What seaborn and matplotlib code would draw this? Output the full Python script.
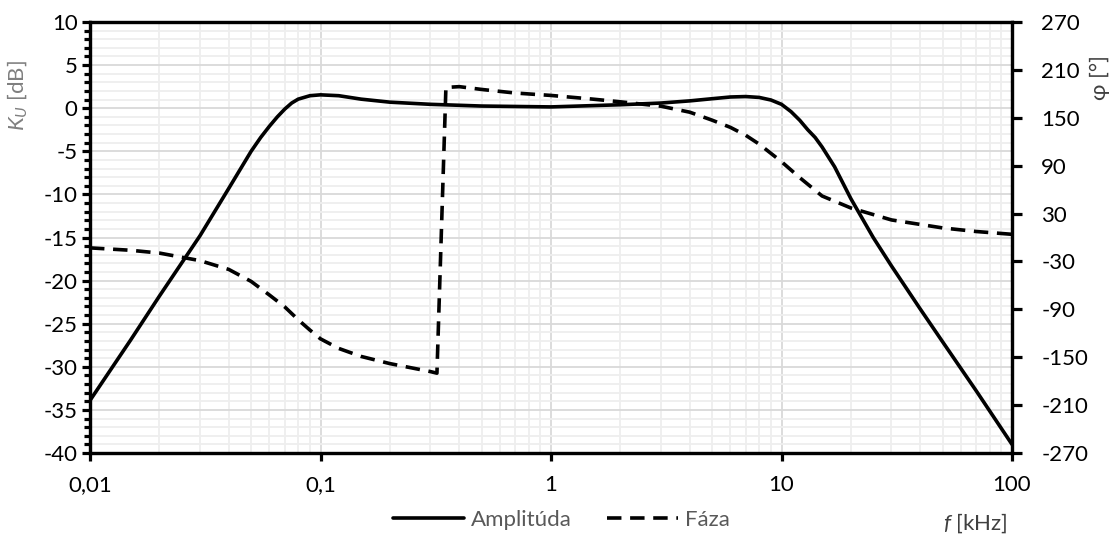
import matplotlib
matplotlib.use("Agg")
import matplotlib.pyplot as plt
import matplotlib.ticker as mticker
from matplotlib.lines import Line2D
import seaborn as sns
import pandas as pd

# ---- data ----
freq_amp = [0.01, 0.015, 0.02, 0.03, 0.04, 0.05, 0.055, 0.06, 0.065, 0.07, 0.075, 0.08, 0.09, 0.1,
            0.12, 0.15, 0.2, 0.3, 0.5, 1, 2, 3, 4, 5, 6, 7, 8, 9, 10,
            11, 12, 13, 14, 15, 17, 20, 25, 30, 40, 50, 70, 100]
amplitude_db = [-33.9, -26.9, -21.8, -14.8, -9.3, -5.0, -3.4, -2.1, -1.0, -0.1, 0.6, 1.05, 1.45, 1.55,
                1.45, 1.05, 0.7, 0.45, 0.25, 0.15, 0.4, 0.6, 0.85, 1.1, 1.3, 1.35, 1.25, 0.95, 0.45,
                -0.4, -1.4, -2.5, -3.4, -4.5, -6.8, -10.5, -15.0, -18.3, -23.3, -27.1, -32.8, -39.0]

freq_phase = [0.01, 0.015, 0.02, 0.03, 0.04, 0.05, 0.06, 0.07, 0.08, 0.09, 0.1,
              0.12, 0.15, 0.2, 0.3, 0.32, 0.35, 0.4, 0.5, 0.7, 1, 1.5, 2, 3, 4, 5, 6, 7, 8,
              10, 12, 15, 20, 30, 50, 70, 100]
phase_deg = [-13, -16, -19.5, -29, -40, -55, -72, -87, -103, -116, -127,
             -139, -149, -158, -168, -170, 188, 189, 185.5, 181, 178, 173.5, 170, 164.5, 157, 147, 138, 128, 117,
             95, 75, 52, 37, 22, 12, 7.5, 4]

x_ticks = [0.01, 0.1, 1, 10, 100]
x_tick_labels = ["0,01", "0,1", "1", "10", "100"]
left_ticks = [10, 5, 0, -5, -10, -15, -20, -25, -30, -35, -40]
right_ticks = [270, 210, 150, 90, 30, -30, -90, -150, -210, -270]

df_amp = pd.DataFrame({"f": freq_amp, "K": amplitude_db})
df_ph = pd.DataFrame({"f": freq_phase, "phi": phase_deg})

sns.set_theme(style="white")
plt.rcParams["font.family"] = ["Lato", "DejaVu Sans"]
plt.rcParams["axes.unicode_minus"] = False
plt.rcParams["mathtext.fontset"] = "custom"
plt.rcParams["mathtext.it"] = "Lato:italic"
plt.rcParams["mathtext.rm"] = "Lato"

FS = 16
LW = 2.6
DASH = (4.0, 2.4)
fig = plt.figure(figsize=(11.18, 5.38), dpi=100)
ax = fig.add_axes([90 / 1118, 1 - 453 / 538, (1012 - 90) / 1118, (453 - 22) / 538])
ax2 = ax.twinx()

sns.lineplot(data=df_amp, x="f", y="K", ax=ax, color="black", linewidth=LW, legend=False)
sns.lineplot(data=df_ph, x="f", y="phi", ax=ax2, color="black", linewidth=LW, legend=False)
for ln in ax2.get_lines():
    ln.set_dashes(DASH)
for a in (ax, ax2):
    for ln in a.get_lines():
        ln.set_solid_joinstyle("round")
        ln.set_dash_joinstyle("round")

ax.set_xscale("log")
ax.set_xlim(0.01, 100)
ax.set_ylim(-40, 10)
ax2.set_ylim(-270, 270)

# ticks & grid
ax.xaxis.set_major_locator(mticker.FixedLocator(x_ticks))
ax.xaxis.set_minor_locator(mticker.LogLocator(base=10, subs=range(2, 10)))
ax.xaxis.set_major_formatter(mticker.FixedFormatter(x_tick_labels))
ax.xaxis.set_minor_formatter(mticker.NullFormatter())
ax.yaxis.set_major_locator(mticker.FixedLocator(left_ticks))
ax.yaxis.set_minor_locator(mticker.MultipleLocator(1))
ax2.yaxis.set_major_locator(mticker.FixedLocator(right_ticks))
ax2.yaxis.set_minor_locator(mticker.NullLocator())

ax.grid(which="major", color="#d9d9d9", linewidth=1.3)
ax.grid(which="minor", color="#eeeeee", linewidth=1.3)
ax.set_axisbelow(True)
ax2.grid(False)

for a in (ax, ax2):
    for s in a.spines.values():
        s.set_color("black")
        s.set_linewidth(2.3)
        s.set_visible(True)

ax.tick_params(axis="x", which="major", direction="out", length=6, width=2.3, color="black",
               labelsize=FS, labelcolor="black", pad=10, bottom=True)
ax.tick_params(axis="x", which="minor", length=0)
ax.tick_params(axis="y", which="major", direction="out", length=6, width=2.3, color="black",
               labelsize=FS, labelcolor="black", pad=3, left=True)
ax.tick_params(axis="y", which="minor", direction="out", length=4, width=2.3, color="black", left=True)
ax2.tick_params(axis="y", which="major", direction="out", length=7, width=2.3, color="black",
                labelsize=FS, labelcolor="black", pad=14, right=True)

ax.set_xlabel("")
ax.set_ylabel(r"$K_U$ [dB]", fontsize=FS, color="#7f7f7f")
ax.yaxis.set_label_coords((29 - 90) / 922, 0.83)
ax2.set_ylabel("φ [°]", fontsize=FS, color="#404040", rotation=90)
ax2.yaxis.set_label_coords((1090 - 90) / 922, 0.87)

fig.text(1008 / 1118, 1 - 523 / 538, r"$f$ [kHz]", fontsize=FS, color="#404040",
         ha="right", va="center")

handles = [Line2D([], [], color="black", linewidth=LW),
           Line2D([], [], color="black", linewidth=LW, dashes=DASH)]
leg = fig.legend(handles, ["Amplitúda", "Fáza"], loc="center", ncol=2,
                 bbox_to_anchor=(0.502, 1 - 520 / 538), frameon=False, fontsize=FS,
                 handlelength=3.2, handletextpad=0.3, columnspacing=1.6)
for t in leg.get_texts():
    t.set_color("#595959")

fig.savefig("out.png", dpi=100)
